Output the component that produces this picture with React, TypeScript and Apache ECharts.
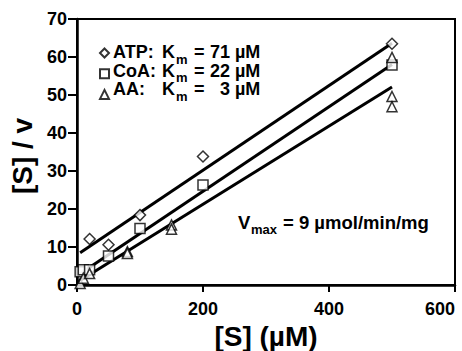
import React, { useEffect, useRef } from "react";
import * as echarts from "echarts";

const atpX = [20, 50, 100, 200, 500];
const atpY = [12.1, 10.6, 18.4, 33.8, 63.5];
const coaX = [5, 10, 20, 50, 100, 200, 500];
const coaY = [3.5, 4.0, 4.0, 7.6, 14.9, 26.3, 57.9];
const aaX = [5, 10, 20, 80, 80, 150, 150, 500, 500, 500];
const aaY = [0.4, 1.8, 3.0, 8.8, 8.3, 15.8, 14.7, 59.9, 49.6, 46.9];

const atpFitX = [5, 500];
const atpFitY = [8.5, 63.6];
const coaFitX = [2, 500];
const coaFitY = [2.6, 58.0];
const aaFitX = [3, 500];
const aaFitY = [1.0, 52.1];

const seriesNames = ["ATP", "CoA", "AA"];
const kmValues = ["71", "22", "3"];

const xTicks = { min: 0, max: 600, interval: 200 };
const yTicks = { min: 0, max: 70, interval: 10 };

const FONT = "Liberation Sans, Arial, Helvetica, sans-serif";

function pairs(xs: number[], ys: number[]) {
  return xs.map((x, i) => [x, ys[i]]);
}

function txt(text: string, x: number, y: number, size: number, align = "left") {
  return {
    type: "text",
    x,
    y,
    silent: true,
    style: {
      text,
      fill: "#000",
      font: `bold ${size}px ${FONT}`,
      align,
      verticalAlign: "middle",
      textAlign: align,
      textVerticalAlign: "middle",
    },
  };
}

export default function App() {
  const ref = useRef<HTMLDivElement>(null);
  useEffect(() => {
    if (!ref.current) return;
    const chart = echarts.init(ref.current, undefined, { renderer: "svg" });
    const markerStyle = { color: "#ffffff", borderColor: "#000", borderWidth: 1.5 };
    const lineSeries = (x: number[], y: number[]) => ({
      type: "line",
      data: pairs(x, y),
      showSymbol: false,
      symbol: "none",
      lineStyle: { color: "#000", width: 3 },
      z: 1,
      silent: true,
    });

    const rowY = [52, 70.7, 89.3];
    const legendTexts: any[] = [];
    seriesNames.forEach((name, i) => {
      const y = rowY[i];
      legendTexts.push(txt(`${name}:`, 113, y, 18));
      legendTexts.push(txt("K", 162, y, 18));
      legendTexts.push(txt("m", 176, y + 7, 13));
      legendTexts.push(txt("=", 194, y, 18));
      legendTexts.push(txt(kmValues[i], 230, y, 18, "right"));
      legendTexts.push(txt("µM", 235, y, 18));
    });

    chart.setOption({
      animation: false,
      textStyle: { fontFamily: FONT },
      grid: {
        left: 77, right: 7, top: 19, bottom: 66,
        outerBoundsMode: "none",
        containLabel: false,
        show: true, borderColor: "#000", borderWidth: 2, backgroundColor: "transparent",
      },
      legend: {
        data: seriesNames,
        orient: "vertical",
        left: 99,
        top: 47.5,
        padding: 0,
        itemWidth: 9,
        itemHeight: 9,
        itemGap: 9.7,
        formatter: () => " ",
        textStyle: { fontSize: 8, lineHeight: 9, padding: 0 },
      },
      xAxis: {
        type: "value",
        ...xTicks,
        name: "[S] (µM)",
        nameLocation: "middle",
        nameGap: 35,
        nameTextStyle: { fontFamily: FONT, fontWeight: "bold", fontSize: 28, color: "#000" },
        axisLine: { show: true, lineStyle: { color: "#000", width: 2.5 } },
        axisTick: { show: true, length: 7, lineStyle: { color: "#000", width: 2 } },
        axisLabel: { fontFamily: FONT, fontWeight: "bold", fontSize: 18, color: "#000", margin: 15, alignMaxLabel: "right" },
        splitLine: { show: false },
      },
      yAxis: {
        type: "value",
        ...yTicks,
        name: "[S] / v",
        nameLocation: "middle",
        nameGap: 38,
        nameTextStyle: { fontFamily: FONT, fontWeight: "bold", fontSize: 28, color: "#000", padding: [0, 8, 0, 0] },
        axisLine: { show: true, lineStyle: { color: "#000", width: 2.5 } },
        axisTick: { show: true, length: 9, lineStyle: { color: "#000", width: 2 } },
        axisLabel: { fontFamily: FONT, fontWeight: "bold", fontSize: 18, color: "#000", margin: 10 },
        splitLine: { show: false },
      },
      series: [
        { name: "ATP", type: "scatter", symbol: "diamond", symbolSize: 11, data: pairs(atpX, atpY), itemStyle: markerStyle, z: 3 },
        { name: "CoA", type: "scatter", symbol: "rect", symbolSize: 10, data: pairs(coaX, coaY), itemStyle: markerStyle, z: 3 },
        { name: "AA", type: "scatter", symbol: "triangle", symbolSize: 10, data: pairs(aaX, aaY), itemStyle: markerStyle, z: 3 },
        lineSeries(atpFitX, atpFitY),
        lineSeries(coaFitX, coaFitY),
        lineSeries(aaFitX, aaFitY),
      ],
      graphic: [
        ...legendTexts,
        txt("V", 238, 222.5, 18.5),
        txt("max", 251, 229, 13),
        txt("= 9 µmol/min/mg", 283, 222.5, 18.5),
      ],
    });
    return () => chart.dispose();
  }, []);
  return <div ref={ref} style={{ width: 462, height: 351, position: "absolute", left: 0, top: 0 }} />;
}
